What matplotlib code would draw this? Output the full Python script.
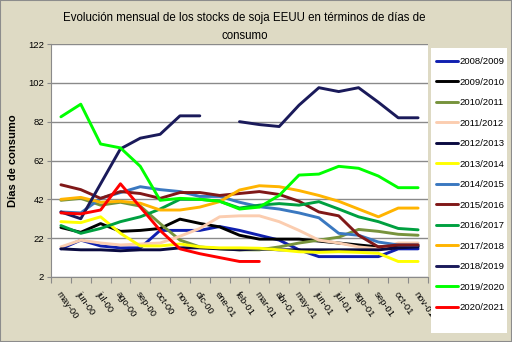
import numpy as np
import matplotlib
matplotlib.use('Agg')
import matplotlib.pyplot as plt
import matplotlib.transforms as mtransforms
from matplotlib.patches import Rectangle

nan = np.nan
months = ['may-00', 'jun-00', 'jul-00', 'ago-00', 'sep-00', 'oct-00', 'nov-00',
          'dic-00', 'ene-01', 'feb-01', 'mar-01', 'abr-01', 'may-01', 'jun-01',
          'jul-01', 'ago-01', 'sep-01', 'oct-01', 'nov-01']

s2008_09 = [16.5, 21, 18, 17, 17, 26, 26, 26, 28, 26, 23.5, 21, 16, 12.5, 12.5, 12.5, 12.5, 16.5, 16.5]
s2009_10 = [27.5, 25, 29.5, 25.5, 26, 27, 31.8, 29.6, 27.8, 23.5, 21.5, 21.5, 21.5, 20.5, 19.5, 18.5, 17.5, 17.5, 18]
s2010_11 = [41.5, 42.5, 39, 40.5, 38.5, 29.5, 21, 17.5, 16.5, 16, 16, 17.5, 19.5, 21, 22.5, 26.5, 25.5, 24, 23.5]
s2011_12 = [17.5, 21, 19.5, 18.5, 19, 19.5, 23, 27, 33, 33.5, 33.5, 30.5, 26, 21, 19.5, 17.5, 16.5, 19.5, 19.5]
s2012_13 = [16.5, 16, 16, 15.5, 16, 16, 17, 17, 16.5, 16, 16.5, 16, 16, 16, 16, 16, 16, 17, 17.5]
s2013_14 = [30.5, 30, 33, 24.5, 18, 18, 19, 17.5, 17, 17, 16.8, 16, 15, 14.7, 15, 14.7, 14.2, 10, 10]
s2014_15 = [35.5, 35, 42.5, 45.5, 48.5, 47, 46, 43.5, 43.5, 40.5, 38.2, 37, 35, 32.5, 24.5, 23.5, 20, 18.5, 18.5]
s2015_16 = [49.5, 47, 42.5, 46, 45, 42.5, 45.5, 45.5, 44, 45, 46, 44.5, 41, 35.5, 33.5, 23.5, 17.5, 18.5, 18.5]
s2016_17 = [28.5, 24.5, 27, 30.5, 33, 37, 42, 42, 41, 37.5, 39, 39.8, 39, 40.8, 37, 33, 30.5, 27, 26.3]
s2017_18 = [42, 43, 40.5, 41, 40, 36.5, 36.5, 38, 40.8, 46.8, 49, 48.5, 46.5, 44, 41, 37, 33, 37.5, 37.5]
s2018_19 = [35.5, 32, 50, 68, 73.5, 75.5, 85, 85, nan, 82, 80.5, 79.5, 90.5, 99.5, 97.5, 99.5, 92, 84, 84]
s2019_20 = [84.5, 91, 70.5, 68.5, 59, 41.5, 42.5, 42, 41, 37, 38, 44, 54.5, 55, 59, 58, 54, 48, 48]
s2020_21 = [35, 34.5, 36.5, 50, 38, 26, 16.5, 14, 12, 10, 10, nan, nan, nan, nan, nan, nan, nan, nan]

labels = ['2008/2009', '2009/2010', '2010/2011', '2011/2012', '2012/2013', '2013/2014',
          '2014/2015', '2015/2016', '2016/2017', '2017/2018', '2018/2019', '2019/2020',
          '2020/2021']
values = [s2008_09, s2009_10, s2010_11, s2011_12, s2012_13, s2013_14, s2014_15,
          s2015_16, s2016_17, s2017_18, s2018_19, s2019_20, s2020_21]
colors = ['#1020B0', '#000000', '#77933C', '#FBCDB0', '#0A0A40', '#FFFF00', '#3A78C0',
          '#801818', '#00A040', '#FFB400', '#1A1A5A', '#00FF00', '#FF0000']

plt.rcParams['font.family'] = ['Liberation Sans', 'DejaVu Sans']

W, H = 512, 342
fig = plt.figure(figsize=(W / 100, H / 100), dpi=100, facecolor='#DEDAC4')

L, R, T, B = 51, 428, 44, 277
ax = fig.add_axes([L / W, 1 - B / H, (R - L) / W, (B - T) / H])
ax.set_facecolor('white')

x = np.arange(len(months))
for lab, vals, col in zip(labels, values, colors):
    ax.plot(x, vals, color=col, lw=2.1, label=lab, solid_capstyle='round',
            solid_joinstyle='round')

ax.set_xlim(-0.5, len(months) - 0.5)
ax.set_ylim(2, 122)
ax.set_yticks(np.arange(2, 123, 20))
ax.yaxis.grid(True, color='#8A8A8A', lw=1.0)
ax.set_axisbelow(True)
ax.tick_params(axis='y', labelsize=6.8, length=3, width=0.8, color='#8A8A8A', pad=2)

ax.set_xticks(np.arange(-0.5, len(months), 1))
ax.set_xticklabels([])
ax.set_xticks(x, minor=True)
ax.set_xticklabels(months, minor=True, rotation=-55, ha='left', va='center',
                   rotation_mode='anchor', fontsize=6.8)
ax.tick_params(axis='x', which='major', length=4, width=0.8, color='#8A8A8A')
ax.tick_params(axis='x', which='minor', length=0, pad=11)
offset = mtransforms.ScaledTranslation(-3 / 100, 0, fig.dpi_scale_trans)
for lbl in ax.get_xticklabels(minor=True):
    lbl.set_transform(lbl.get_transform() + offset)

for sp in ['top', 'right']:
    ax.spines[sp].set_visible(False)
ax.spines['left'].set_color('#8A8A8A')
ax.spines['bottom'].set_color('#8A8A8A')

ax.set_ylabel('Días de consumo', fontsize=8, fontweight='bold', labelpad=7)

fig.text(244.5 / W, 1 - 21 / H, 'Evolución mensual de los stocks de soja EEUU en términos de días de',
         ha='center', va='baseline', fontsize=8.3)
fig.text(244.5 / W, 1 - 39 / H, 'consumo', ha='center', va='baseline', fontsize=8.3)

# legend background
fig.patches.append(Rectangle((431 / W, 1 - 333 / H), 76 / W, 285 / H,
                             transform=fig.transFigure, facecolor='white',
                             edgecolor='none', zorder=0))
handles, labs = ax.get_legend_handles_labels()
fig.legend(handles, labs, loc='upper left', bbox_to_anchor=(436 / W, 1 - 57 / H),
           frameon=False, fontsize=6.8, borderpad=0, borderaxespad=0,
           labelspacing=1.22, handlelength=2.3, handletextpad=0.15)

fig.patches.append(Rectangle((0, 0), 1, 1, transform=fig.transFigure, fill=False,
                             edgecolor='#8C8C8C', lw=1.5))

fig.savefig('out.png', dpi=100, facecolor=fig.get_facecolor())
